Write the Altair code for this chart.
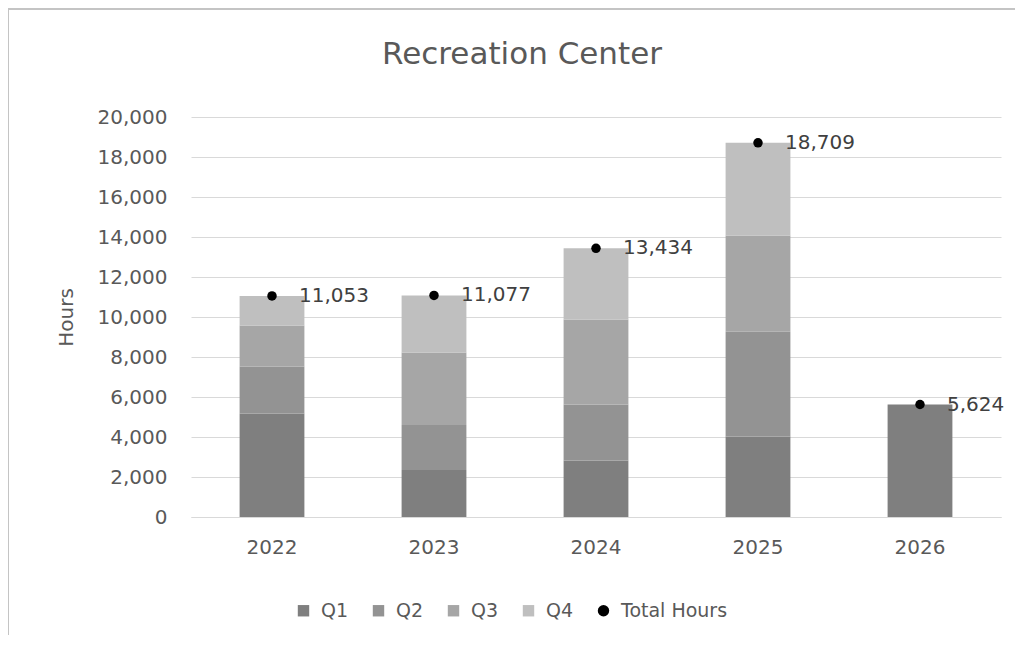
import altair as alt
import pandas as pd

years = ["2022", "2023", "2024", "2025", "2026"]
q1 = [5180, 2350, 2820, 4030, 5624]
q2 = [2340, 2250, 2810, 5230, None]
q3 = [2050, 3620, 4250, 4820, None]
q4 = [1483, 2857, 3554, 4629, None]
totals = [11053, 11077, 13434, 18709, 5624]
series = ["Q1", "Q2", "Q3", "Q4"]
series_colors = ["#7f7f7f", "#939393", "#a6a6a6", "#bfbfbf"]
total_label = "Total Hours"
y_ticks = list(range(0, 20001, 2000))

rows = []
for k, (s, vals) in enumerate(zip(series, [q1, q2, q3, q4])):
    for y, v in zip(years, vals):
        if v is not None:
            rows.append({"Year": y, "Quarter": s, "Hours": v, "ord": k})
bars_df = pd.DataFrame(rows)
tot_df = pd.DataFrame({"Year": years, "Total": totals, "Series": [total_label] * len(years)})

FONT = "DejaVu Sans"
TXT = "#595959"

color_scale = alt.Scale(domain=series + [total_label], range=series_colors + ["#000000"])

x_axis = alt.Axis(title=None, labelAngle=0, ticks=False, domain=True, domainColor="#d9d9d9",
                  labelPadding=20, grid=False, labelFontSize=20, labelColor=TXT, labelFont=FONT)
x_scale = alt.Scale(paddingInner=0.6, paddingOuter=0.3)
y_scale = alt.Scale(domain=[0, 20000], nice=False)
y_axis = alt.Axis(values=y_ticks, format=",.0f", title="Hours", ticks=False, domain=False,
                  labelOverlap=False, gridColor="#d9d9d9", labelPadding=24, labelFontSize=20,
                  labelColor=TXT, labelFont=FONT, titleFont=FONT, titleFontSize=20, titleColor=TXT,
                  titleFontWeight="normal", titlePadding=21)

bars = alt.Chart(bars_df).mark_bar().encode(
    x=alt.X("Year:N", scale=x_scale, axis=x_axis),
    y=alt.Y("Hours:Q", stack="zero", scale=y_scale, axis=y_axis),
    color=alt.Color("Quarter:N", scale=color_scale,
                    legend=alt.Legend(title=None, orient="none", direction="horizontal",
                                      legendX=103, legendY=484,
                                      symbolType=alt.ExprRef("datum.value === 'Total Hours' ? 'circle' : 'square'"),
                                      symbolSize=130, symbolStrokeWidth=0,
                                      labelFontSize=19, labelFont=FONT, labelColor=TXT,
                                      labelOffset=8, columnPadding=20)),
    order=alt.Order("ord:Q"),
)

points = alt.Chart(tot_df).mark_point(filled=True, opacity=1, size=90).encode(
    x=alt.X("Year:N", scale=x_scale, axis=x_axis),
    y=alt.Y("Total:Q", scale=y_scale, axis=y_axis),
    color=alt.Color("Series:N", scale=color_scale),
)

labels = alt.Chart(tot_df).mark_text(align="left", baseline="middle", dx=27, font=FONT,
                                     fontSize=20, color="#404040").encode(
    x=alt.X("Year:N", scale=x_scale, axis=x_axis),
    y=alt.Y("Total:Q", scale=y_scale, axis=y_axis),
    text=alt.Text("Total:Q", format=",.0f"),
)

one = pd.DataFrame({"k": [0]})
border_top = alt.Chart(one).mark_rule(color="#c4c4c4", strokeWidth=2).encode(
    x=alt.value(-183), x2=alt.value(830), y=alt.value(-108))
border_left = alt.Chart(one).mark_rule(color="#c4c4c4", strokeWidth=2).encode(
    x=alt.value(-183), y=alt.value(-108), y2=alt.value(530))

chart = alt.layer(bars, points, labels, border_top, border_left).properties(
    width=810,
    height=400,
    background="white",
    autosize=alt.AutoSizeParams(type="none"),
    padding={"left": 183, "top": 109, "right": 14, "bottom": 118},
    title=alt.TitleParams("Recreation Center", font=FONT, fontSize=31, fontWeight="normal",
                          color=TXT, anchor="middle", baseline="alphabetic", dx=-74, offset=-87),
).configure_view(strokeWidth=0)

chart.save("out.html", embed_options={"renderer": "svg", "actions": False})
